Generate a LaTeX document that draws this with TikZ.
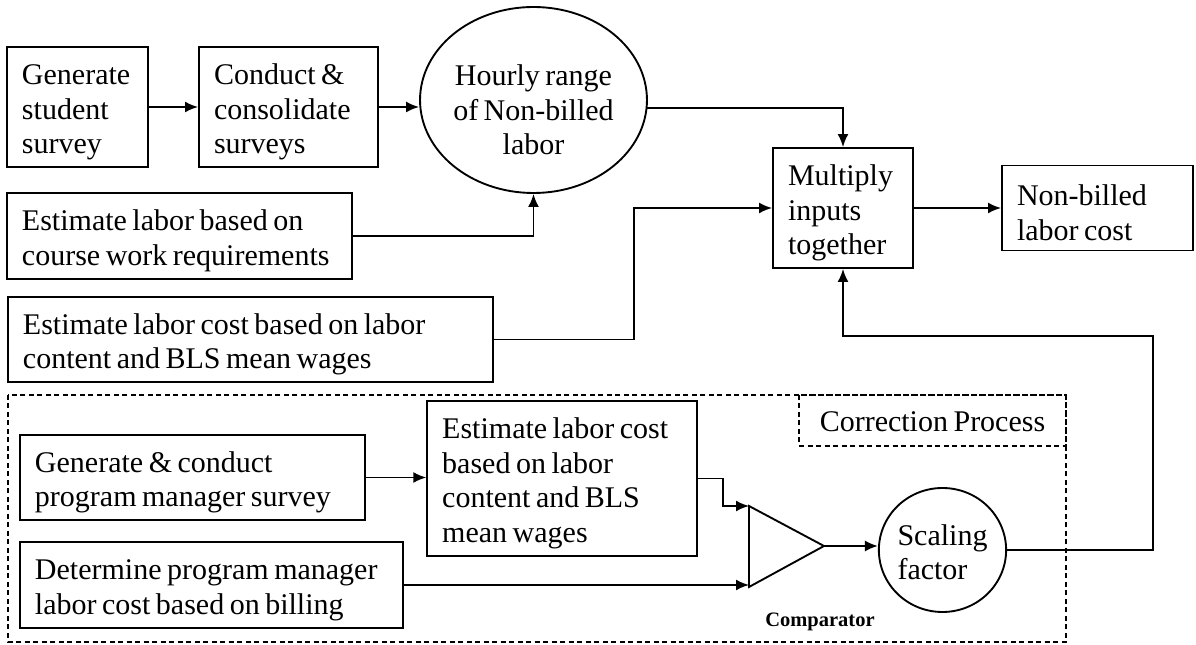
\documentclass[tikz,border=0pt]{standalone}
\usepackage{fontspec}
\setmainfont{Liberation Serif}
\usetikzlibrary{arrows.meta,shapes.geometric,calc}
\hyphenpenalty=10000
\exhyphenpenalty=10000
\newcommand\tightsp{\spaceskip=2.2pt plus 1pt minus 0.5pt\relax}
\newcommand\toplift[1]{\leavevmode\vrule width 0pt height #1\relax}

\tikzset{
  procbox/.style={draw,rectangle,inner xsep=6pt,inner ysep=0pt,align=left,
    execute at begin node={\tightsp\toplift{12.3pt}}},
  oval/.style={draw,ellipse,inner sep=0pt},
  dashbox/.style={dash pattern=on 2pt off 1.4pt},
}

\begin{document}
\begin{tikzpicture}[x=0.4pt,y=-0.4pt,>={Latex[length=5.2pt,width=4.4pt]},line width=0.75pt,
  font=\fontsize{12}{13.8}\selectfont\tightsp]
\useasboundingbox (0,0) rectangle (1196,645);
% upper chain
\node[procbox,text width=44.4pt,minimum height=48pt] (gen) at (77.5,107) {Generate\\student\\survey};
\node[procbox,text width=59.6pt,minimum height=48pt] (cons) at (288.5,107) {Conduct \&\\consolidate\\surveys};
\node[oval,minimum width=81.2pt,minimum height=74.4pt,align=center] (hourly) at (533.5,100)
  {\toplift{16.3pt}Hourly range\\of Non-billed\\labor};
\node[procbox,text width=126pt,minimum height=34.4pt] (est) at (179.5,236) {Estimate labor based on\\course work requirements};
\node[procbox,text width=182pt,minimum height=34pt] (estcost) at (250.5,339.5) {Estimate labor cost based on labor\\content and BLS mean wages};
\node[procbox,text width=44pt,minimum height=48pt] (mult) at (843,208) {Multiply\\inputs\\together};
\node[procbox,text width=64.4pt,minimum height=34pt] (nbl) at (1097.5,208) {Non-billed\\labor cost};
% correction process
\draw[dashbox] (8,395) rectangle (1066,642);
\draw[dashbox] (799,395) rectangle (1066,446);
\node (corr) at (932.5,422) {Correction Process};
\node[procbox,text width=126pt,minimum height=34pt] (gcp) at (192.5,477.5) {Generate \& conduct\\program manager survey};
\node[procbox,text width=95.8pt,minimum height=62pt] (est2) at (562,478.5) {Estimate labor cost\\based on labor\\content and BLS\\mean wages};
\node[procbox,text width=141.2pt,minimum height=34.4pt] (det) at (211.5,585) {Determine program manager\\labor cost based on billing};
\coordinate (cin1) at (749,506);
\coordinate (cin2) at (749,587);
\coordinate (cout) at (824,546);
\draw (cin1) -- (cin2) -- (cout) -- cycle;
\node[font=\fontsize{8.2}{9}\selectfont\bfseries] (cmp) at (820,622) {Comparator};
\node[oval,minimum width=50.8pt,minimum height=49.6pt,align=left] (scal) at (942.5,550) {\toplift{10pt}Scaling\\factor};
% connectors
\draw[->] (gen) -- (cons);
\draw[->] (cons.east) -- (cons.east -| hourly.west);
\draw[->] (est.east) -| (hourly.south);
\draw[->] (hourly.-4) -| (mult.north);
\draw[->] (estcost.east) -- ++(140,0) |- (mult.west);
\draw[->] (mult) -- (nbl);
\draw[->] (gcp.east) -- (gcp.east -| est2.west);
\draw[->] (est2.east) -- ++(25,0) |- (cin1);
\draw[->] (det.east) -- (det.east -| cin2);
\draw[->] (cout) -- (cout -| scal.west);
\draw[->] (scal.east) -- ++(146,0) |- ($(mult.south)+(0,67)$) -- (mult.south);
\end{tikzpicture}
\end{document}
